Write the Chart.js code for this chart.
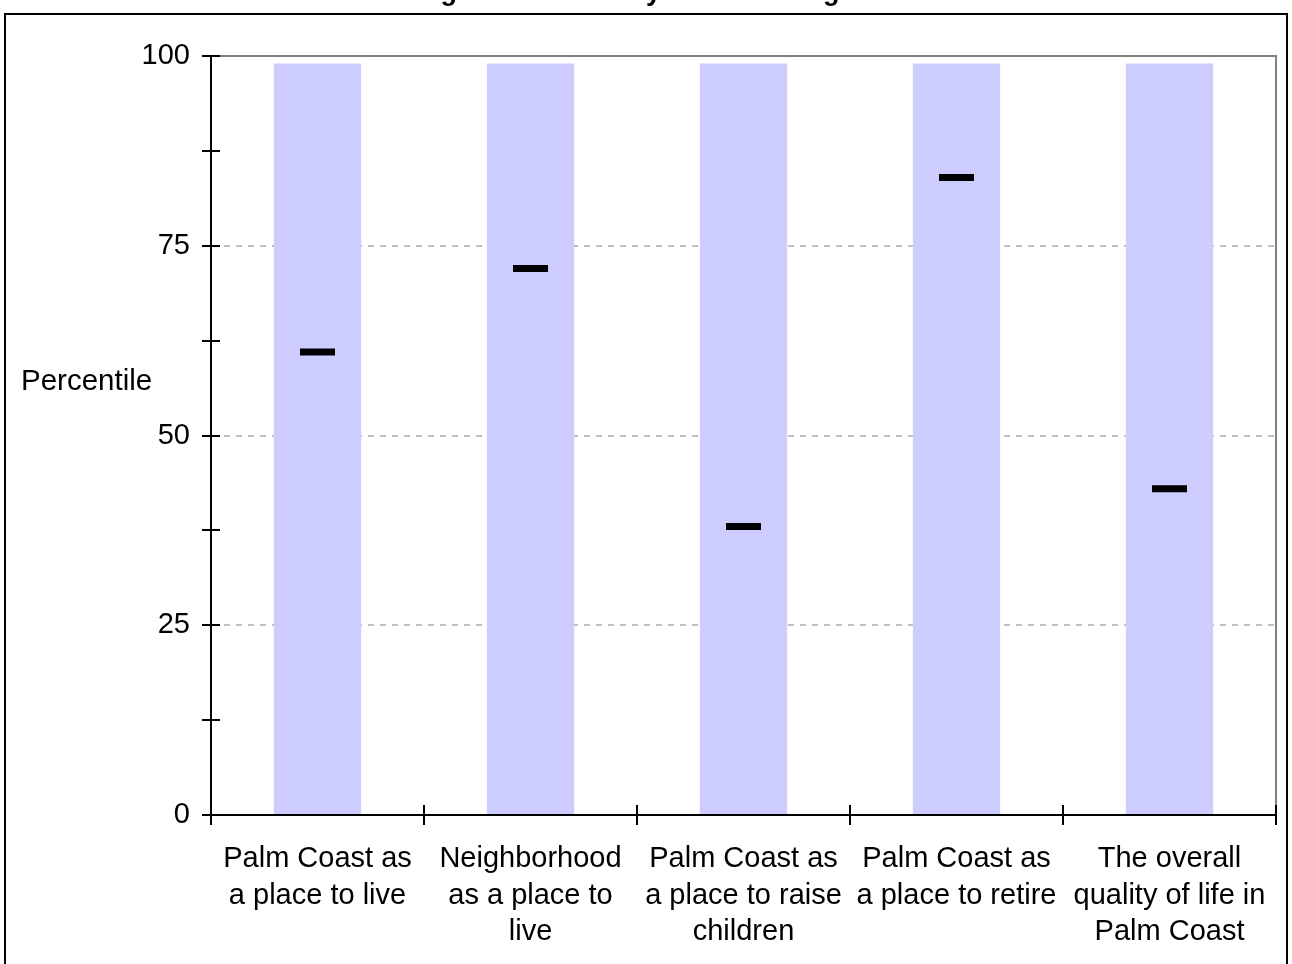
<!DOCTYPE html>
<html>
<head>
<meta charset="utf-8">
<script src="https://cdn.jsdelivr.net/npm/chart.js@4.4.0/dist/chart.umd.min.js"></script>
<style>
  html, body { margin: 0; padding: 0; background: #fff; }
  #wrap { width: 1292px; height: 964px; }
</style>
</head>
<body>
<div id="wrap"><canvas id="chart" width="1292" height="964"></canvas></div>
<script>
// Survey items shown along the x axis (one array per wrapped label)
const categories = [
  ["Palm Coast as", "a place to live"],
  ["Neighborhood", "as a place to", "live"],
  ["Palm Coast as", "a place to raise", "children"],
  ["Palm Coast as", "a place to retire"],
  ["The overall", "quality of life in", "Palm Coast"]
];
// Full percentile range band behind each item
const rangeTop = [99, 99, 99, 99, 99];
// Palm Coast percentile rank for each item
const percentile = [61, 72, 38, 84, 43];
// Labelled y-axis values
const yLabels = [0, 25, 50, 75, 100];

const titleText = "Ratings of Community Life Standings";
const axisTitle = "Percentile";
const FONT = '"Liberation Sans", Arial, Helvetica, sans-serif';

const decorations = {
  id: 'decorations',
  beforeDraw(chart) {
    const ctx = chart.ctx;
    ctx.save();
    ctx.fillStyle = '#fff';
    ctx.fillRect(0, 0, chart.width, chart.height);
    // outer frame
    ctx.strokeStyle = '#000';
    ctx.lineWidth = 2;
    ctx.strokeRect(5, 14, 1282, 1000);
    // heading sits above the frame
    ctx.fillStyle = '#000';
    ctx.font = 'bold 27px ' + FONT;
    ctx.textAlign = 'left';
    ctx.textBaseline = 'alphabetic';
    ctx.fillText(titleText, 373, -0.5);
    ctx.restore();
  },
  beforeDatasetsDraw(chart) {
    const { ctx, chartArea: a } = chart;
    ctx.save();
    ctx.strokeStyle = '#808080';
    ctx.lineWidth = 2;
    ctx.beginPath();
    ctx.moveTo(a.left, a.top);
    ctx.lineTo(a.right, a.top);
    ctx.lineTo(a.right, a.bottom);
    ctx.stroke();
    ctx.restore();
  },
  afterDraw(chart) {
    const { ctx, chartArea: a, scales } = chart;
    ctx.save();
    ctx.strokeStyle = '#000';
    ctx.lineWidth = 2;
    ctx.beginPath();
    // crossing tick marks on the value axis
    scales.y.ticks.forEach(t => {
      const py = Math.round(scales.y.getPixelForValue(t.value));
      ctx.moveTo(a.left - 9, py);
      ctx.lineTo(a.left + 9, py);
    });
    // category boundary tick marks
    for (let i = 0; i <= categories.length; i++) {
      const px = Math.round(scales.x.getPixelForValue(i - 0.5));
      ctx.moveTo(px, a.bottom - 10);
      ctx.lineTo(px, a.bottom + 10);
    }
    ctx.stroke();
    // horizontal axis title
    ctx.fillStyle = '#000';
    ctx.font = '29.5px ' + FONT;
    ctx.textAlign = 'left';
    ctx.textBaseline = 'alphabetic';
    ctx.fillText(axisTitle, 21, 390);
    ctx.restore();
  }
};

Chart.defaults.font.family = FONT;
Chart.defaults.color = '#000';

new Chart(document.getElementById('chart'), {
  type: 'bar',
  data: {
    labels: categories,
    datasets: [
      {
        type: 'line',
        label: 'Percentile',
        data: percentile,
        showLine: false,
        pointStyle: 'line',
        pointRadius: 17.5,
        pointHoverRadius: 17.5,
        pointBorderWidth: 7,
        pointHoverBorderWidth: 7,
        borderColor: '#000',
        backgroundColor: '#000',
        order: 0
      },
      {
        type: 'bar',
        label: 'Range',
        data: rangeTop,
        backgroundColor: '#CCCCFF',
        borderWidth: 0,
        barPercentage: 0.41,
        categoryPercentage: 1,
        order: 1
      }
    ]
  },
  options: {
    responsive: false,
    animation: false,
    devicePixelRatio: 1,
    layout: { autoPadding: false, padding: { left: 0, right: 16, top: 56, bottom: 0 } },
    plugins: {
      legend: { display: false },
      title: { display: false },
      tooltip: { enabled: false }
    },
    scales: {
      x: {
        type: 'category',
        offset: true,
        grid: { display: true, drawOnChartArea: false, drawTicks: false, offset: true },
        border: { display: true, color: '#000', width: 2 },
        ticks: {
          color: '#000',
          font: { size: 29, lineHeight: 1.26 },
          padding: 26,
          maxRotation: 0,
          minRotation: 0,
          autoSkip: false
        },
        afterFit(scale) {
          scale.height = 149;
          scale.paddingLeft = 0;
          scale.paddingRight = 0;
        }
      },
      y: {
        min: 0,
        max: 100,
        grid: {
          drawTicks: false,
          lineWidth: 2,
          color(ctx) {
            const v = ctx.tick ? ctx.tick.value : null;
            return (v !== null && yLabels.includes(v) && v > 0 && v < 100) ? '#C0C0C0' : 'rgba(0,0,0,0)';
          }
        },
        border: { display: true, color: '#000', width: 2, dash: [6, 6] },
        ticks: {
          stepSize: 12.5,
          autoSkip: false,
          color: '#000',
          font: { size: 29 },
          padding: 21,
          callback(value) { return yLabels.includes(value) ? String(value) : ''; }
        },
        afterFit(scale) {
          scale.width = 211;
          scale.paddingTop = 0;
          scale.paddingBottom = 0;
        }
      }
    }
  },
  plugins: [decorations]
});
</script>
</body>
</html>
